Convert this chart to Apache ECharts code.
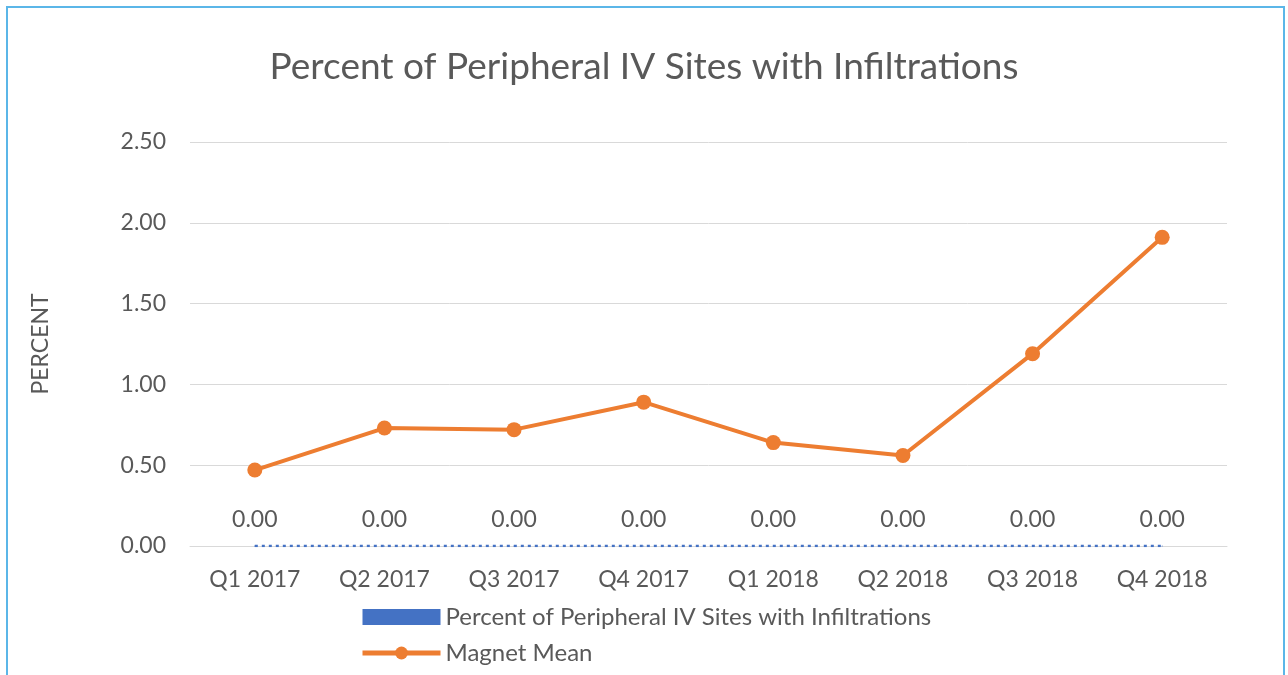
<!DOCTYPE html>
<html>
<head>
<meta charset="utf-8">
<script src="https://cdn.jsdelivr.net/npm/echarts@6/dist/echarts.min.js"></script>
<style>
  html, body { margin: 0; padding: 0; background: #fff; }
  #wrap { position: absolute; left: 6px; top: 6px; width: 1279px; height: 680px; border: 2px solid #5bb6e8; box-sizing: border-box; }
  #chart { position: absolute; left: 0; top: 0; width: 1288px; height: 675px; }
</style>
</head>
<body>
<div id="wrap"></div>
<div id="chart"></div>
<script>
"use strict";

var quarters = ['Q1 2017', 'Q2 2017', 'Q3 2017', 'Q4 2017', 'Q1 2018', 'Q2 2018', 'Q3 2018', 'Q4 2018'];
var infiltrations = [0, 0, 0, 0, 0, 0, 0, 0];
var magnetMean = [0.47, 0.73, 0.72, 0.89, 0.64, 0.56, 1.19, 1.91];
var yTicks = [0, 0.5, 1, 1.5, 2, 2.5];

var grey = '#595959';
var font = 'Lato';

var myChart = echarts.init(document.getElementById('chart'));

var option = {
    animation: false,
    title: {
        text: 'Percent of Peripheral IV Sites with Infiltrations',
        left: 'center',
        top: 44,
        textStyle: { color: grey, fontSize: 37, fontWeight: 'normal', fontFamily: font }
    },
    grid: { left: 190, right: 61, top: 142, bottom: 129, containLabel: false },
    legend: {
        orient: 'vertical',
        left: 355,
        top: 600,
        itemGap: 12,
        itemWidth: 78,
        itemHeight: 16,
        textStyle: { color: grey, fontSize: 24, fontFamily: font },
        data: [
            { name: 'Percent of Peripheral IV Sites with Infiltrations', icon: 'rect' },
            { name: 'Magnet Mean', lineStyle: { width: 5 } }
        ]
    },
    xAxis: {
        type: 'category',
        data: quarters,
        axisLine: { show: true, lineStyle: { color: '#d9d9d9', width: 1 } },
        axisTick: { show: false },
        axisLabel: { color: grey, fontSize: 23, fontFamily: font, margin: 22 }
    },
    yAxis: {
        type: 'value',
        min: yTicks[0],
        max: yTicks[yTicks.length - 1],
        interval: 0.5,
        name: 'PERCENT',
        nameLocation: 'middle',
        nameGap: 138,
        nameTextStyle: { color: grey, fontSize: 23, fontFamily: font },
        axisLine: { show: false },
        axisTick: { show: false },
        splitLine: { lineStyle: { color: '#d9d9d9', width: 1 } },
        axisLabel: {
            color: grey, fontSize: 23, fontFamily: font, margin: 24,
            formatter: function (v) { return v.toFixed(2); }
        }
    },
    series: [
        {
            name: 'Percent of Peripheral IV Sites with Infiltrations',
            type: 'line',
            data: infiltrations,
            showSymbol: true,
            symbol: 'circle',
            symbolSize: 1,
            itemStyle: { color: '#4472c4' },
            lineStyle: { color: '#4472c4', width: 2.5, type: [3, 4] },
            label: {
                show: true,
                position: 'top',
                distance: 14,
                color: grey,
                fontSize: 23,
                fontFamily: font,
                formatter: function (p) { return p.value.toFixed(2); }
            },
            z: 3
        },
        {
            name: 'Magnet Mean',
            type: 'line',
            data: magnetMean,
            symbol: 'circle',
            symbolSize: 15,
            itemStyle: { color: '#ed7d31' },
            lineStyle: { color: '#ed7d31', width: 4 },
            z: 4
        }
    ]
};

myChart.setOption(option);
</script>
</body>
</html>
